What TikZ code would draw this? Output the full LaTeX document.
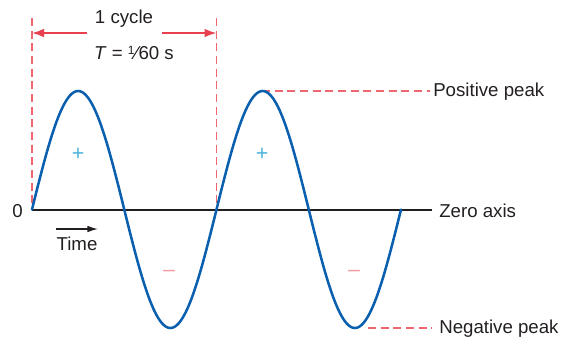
\documentclass[tikz,border=0pt]{standalone}
\usepackage{fontspec}
\setmainfont{Liberation Sans}
\usetikzlibrary{arrows.meta}
\definecolor{wave}{HTML}{0A60AE}
\definecolor{dimred}{HTML}{E8404E}
\definecolor{dashred}{HTML}{EE6670}
\definecolor{plusblue}{HTML}{4DB4DA}
\definecolor{minuspink}{HTML}{F29AA2}
\definecolor{txt}{HTML}{231F20}
\tikzset{
  lbl/.style={font=\fontsize{14}{16}\selectfont, text=txt, inner sep=0pt},
  guide/.style={dashred, line width=1.3pt, dash pattern=on 6pt off 3.5pt},
  dimarrow/.style={dimred, line width=1.2pt, -{Latex[length=9pt,width=6.5pt]}},
  sign/.style={font=\fontsize{16}{18}\selectfont, inner sep=0pt}
}
\begin{document}
\begin{tikzpicture}[x=0.75pt,y=-0.75pt]
\useasboundingbox (0,0) rectangle (567,337);
% coordinates
\coordinate (o) at (32,210);
\coordinate (axend) at (432,210);
\coordinate (c1) at (216.5,210);
\coordinate (o top) at (32,18);
\coordinate (c1 top) at (216.5,18);
\coordinate (pk) at (262,91);
\coordinate (pkend) at (430,91);
\coordinate (tr) at (368,328);
\coordinate (trend) at (432,328);
\coordinate (al) at (87,33);
\coordinate (alend) at (32,33);
\coordinate (ar) at (162,33);
\coordinate (arend) at (216.5,33);
\coordinate (ts) at (56,229);
\coordinate (te) at (98,229);
% guides
\draw[guide] (o top) -- (o);
\draw[guide] (c1 top) -- (c1);
\draw[guide] (pk) -- (pkend);
\draw[guide] (tr) -- (trend);
% dimension arrows
\draw[dimarrow] (al) -- (alend);
\draw[dimarrow] (ar) -- (arend);
% axis
\draw[line width=1.9pt, txt] (o) -- (axend);
% wave
\draw[wave, line width=1.9pt, line join=round, line cap=round]
  plot[domain=0:369, samples=241, smooth] ({32+\x}, {209.5-118.5*sin(\x/184.5*360)});
% labels
\node[lbl] (cyc) at (124,19) {1 cycle};
\node[lbl] (per) at (134,53) {\textit{T} = \raisebox{0.5ex}{\fontsize{9}{10}\selectfont 1}\kern0.02em⁄\kern0.02em60 s};
\node[lbl, anchor=west] (pos) at (433,92) {Positive peak};
\node[lbl, anchor=west] (neg) at (439,329) {Negative peak};
\node[lbl, anchor=west] (zer) at (439,211) {Zero axis};
\node[lbl] (zero) at (17.5,211) {0};
\node[lbl] (time) at (77,244) {Time};
\draw[txt, line width=1pt, -{Latex[length=8pt,width=5pt]}] (ts) -- (te);
% signs
\node[sign, text=plusblue] (p1) at (78,154) {+};
\node[sign, text=plusblue] (p2) at (262,154) {+};
\node[sign, text=minuspink] (m1) at (169,273) {–};
\node[sign, text=minuspink] (m2) at (354,273) {–};
\end{tikzpicture}
\end{document}
